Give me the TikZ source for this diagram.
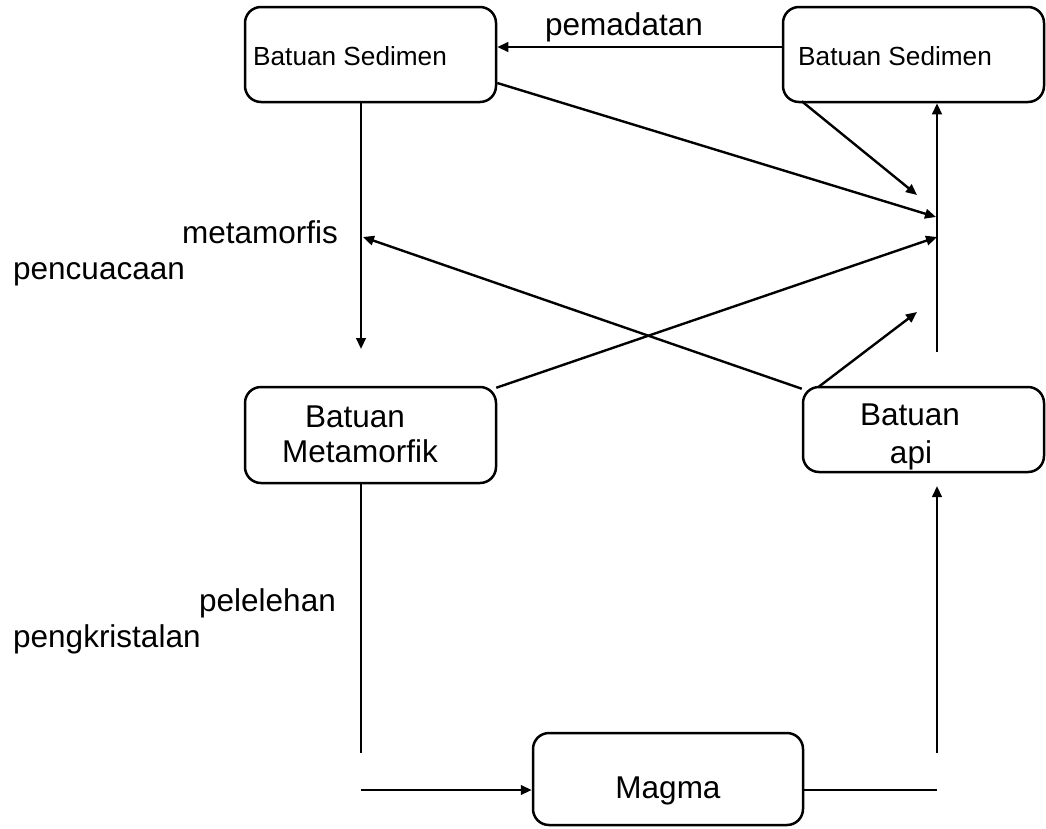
\documentclass[tikz,border=0pt]{standalone}
\usepackage{fontspec}
\setmainfont{Liberation Sans}
\usetikzlibrary{arrows.meta,calc}
\begin{document}
\begin{tikzpicture}[x=1pt,y=-1pt,
  box/.style={draw, line width=2.5pt, rounded corners=16pt, inner sep=0pt},
  small/.style={font=\fontsize{26.2}{30}\selectfont, inner sep=0pt},
  big/.style={font=\fontsize{31.5}{35}\selectfont, inner sep=0pt},
  conn/.style={line width=2.4pt},
  arr/.style={conn, -{Triangle[length=11pt,width=9.5pt]}}]
\useasboundingbox (0,0) rectangle (1046,828);

% boxes
\node[box, minimum width=251pt, minimum height=95pt] (sedL) at (370.5,54.5) {};
\node[box, minimum width=261pt, minimum height=95pt] (sedR) at (913.5,54.5) {};
\node[box, minimum width=251pt, minimum height=96pt] (meta) at (370.5,435) {};
\node[box, minimum width=241pt, minimum height=85pt] (api) at (923.5,429.5) {};
\node[box, minimum width=270pt, minimum height=92pt] (magma) at (668,779) {};

% box texts
\node[small, anchor=base west] (sedLt) at (253,65) {Batuan Sedimen};
\node[small, anchor=base west] (sedRt) at (798,65) {Batuan Sedimen};
\node[big, anchor=base] (metat1) at (355,427) {Batuan};
\node[big, anchor=base] (metat2) at (360,462) {Metamorfik};
\node[big, anchor=base] (apit1) at (910,425) {Batuan};
\node[big, anchor=base] (apit2) at (911,463) {api};
\node[big, anchor=base] (magmat) at (668,798) {Magma};

% labels
\node[big, anchor=base west] (l1) at (545,35) {pemadatan};
\node[big, anchor=base west] (l2) at (182,243) {metamorfis};
\node[big, anchor=base west] (l3) at (13,279) {pencuacaan};
\node[big, anchor=base west] (l4) at (199,611) {pelelehan};
\node[big, anchor=base west] (l5) at (13,647) {pengkristalan};

% free ends
\coordinate (p1) at (361,349);
\coordinate (p2) at (936,217);
\coordinate (p3) at (917,195);
\coordinate (p4) at (937,352);
\coordinate (p5) at (363,237);
\coordinate (p6) at (937,237);
\coordinate (p7) at (917,312);
\coordinate (p8) at (361,753);
\coordinate (p9) at (361,790);
\coordinate (p10) at (937,790);
\coordinate (p11) at (937,753);
\coordinate (p12) at (937,486);

% connectors
\draw[arr] ($(sedR.west)+(0,-7.5)$) -- ($(sedL.east)+(0,-7.5)$);
\draw[arr] (sedL.south -| p1) -- (p1);
\draw[arr] ($(sedL.east)+(0,28.5)$) -- (p2);
\draw[arr] ($(sedR.south west)+(20,-2)$) -- (p3);
\draw[arr] (p4) -- (sedR.south -| p4);
\draw[arr] ($(api.north west)+(0,3)$) -- (p5);
\draw[arr] ($(meta.north east)+(-1,2)$) -- (p6);
\draw[arr] ($(api.north west)+(17,1)$) -- (p7);
\draw[conn] (meta.south -| p8) -- (p8);
\draw[arr] (p9) -- (magma.west |- p9);
\draw[conn] (magma.east |- p10) -- (p10);
\draw[arr] (p11) -- (p12);
\end{tikzpicture}
\end{document}
